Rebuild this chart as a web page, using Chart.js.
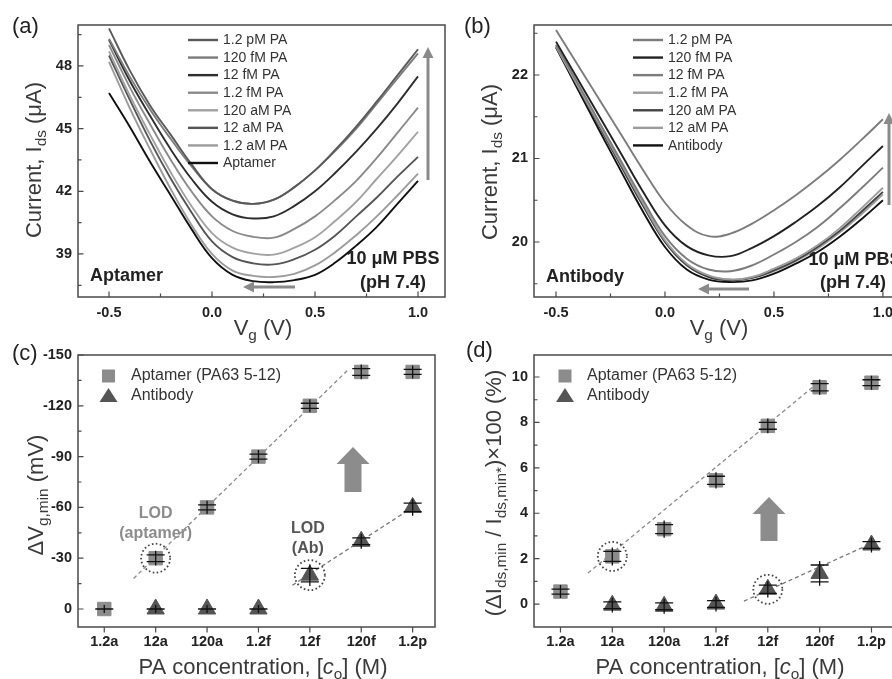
<!DOCTYPE html>
<html>
<head>
<meta charset="utf-8">
<script src="https://cdn.jsdelivr.net/npm/chart.js@4.4.1/dist/chart.umd.min.js"></script>
<style>
  html, body { margin: 0; padding: 0; background: #fff; }
  body { width: 892px; height: 679px; position: relative; overflow: hidden; }
  .panel { position: absolute; overflow: hidden; }
</style>
</head>
<body>
<div class="panel" style="left:0;top:0;width:446px;height:345px"><canvas id="ca" width="446" height="345"></canvas></div>
<div class="panel" style="left:446px;top:0;width:446px;height:345px"><canvas id="cb" width="470" height="345"></canvas></div>
<div class="panel" style="left:0;top:340px;width:446px;height:339px"><canvas id="cc" width="446" height="339"></canvas></div>
<div class="panel" style="left:446px;top:340px;width:446px;height:339px"><canvas id="cd" width="460" height="339"></canvas></div>

<script>
const FONT = "Arial, 'Liberation Sans', sans-serif";
Chart.defaults.font.family = FONT;

// gate voltage (V) shared by panels a and b
const vg = [-0.5, -0.4, -0.3, -0.2, -0.1, 0.0, 0.1, 0.2, 0.3, 0.4, 0.5, 0.6, 0.7, 0.8, 0.9, 1.0];

// (a) aptamer FET, Ids (uA)
const aptLabels = ['1.2 pM PA', '120 fM PA', '12 fM PA', '1.2 fM PA', '120 aM PA', '12 aM PA', '1.2 aM PA', 'Aptamer'];
const apt_1p2pM = [49.8, 47.8, 46.1, 44.7, 43.3, 42.1, 41.55, 41.4, 41.6, 42.2, 43.0, 44.0, 45.1, 46.3, 47.55, 48.8];
const apt_120fM = [49.3, 47.5, 45.9, 44.5, 43.2, 42.1, 41.55, 41.4, 41.6, 42.2, 43.0, 43.95, 45.0, 46.2, 47.4, 48.6];
const apt_12fM  = [49.25, 47.3, 45.6, 44.0, 42.6, 41.5, 40.9, 40.7, 40.8, 41.3, 42.0, 42.9, 43.9, 45.0, 46.2, 47.5];
const apt_1p2fM = [49.0, 47.0, 45.2, 43.5, 42.0, 40.8, 40.1, 39.82, 39.78, 40.2, 40.8, 41.6, 42.5, 43.6, 44.8, 46.0];
const apt_120aM = [48.7, 46.6, 44.7, 42.9, 41.3, 40.0, 39.3, 39.02, 38.97, 39.3, 39.8, 40.6, 41.5, 42.6, 43.7, 44.85];
const apt_12aM  = [48.5, 46.4, 44.4, 42.6, 41.0, 39.6, 38.85, 38.55, 38.5, 38.75, 39.2, 39.9, 40.8, 41.7, 42.7, 43.65];
const apt_1p2aM = [48.2, 46.0, 44.0, 42.1, 40.4, 39.0, 38.2, 37.95, 37.9, 38.05, 38.45, 39.1, 39.9, 40.8, 41.8, 42.85];
const apt_blank = [46.7, 45.1, 43.4, 41.8, 40.2, 38.8, 38.0, 37.7, 37.65, 37.75, 38.0, 38.6, 39.4, 40.3, 41.4, 42.5];
const aptColors = ['#5a5a5a', '#7c7c7c', '#2e2e2e', '#8a8a8a', '#a2a2a2', '#555555', '#9c9c9c', '#111111'];

// (b) antibody FET, Ids (uA)
const abLabels = ['1.2 pM PA', '120 fM PA', '12 fM PA', '1.2 fM PA', '120 aM PA', '12 aM PA', 'Antibody'];
const ab_1p2pM = [22.54, 22.12, 21.7, 21.28, 20.86, 20.47, 20.2, 20.07, 20.1, 20.22, 20.38, 20.56, 20.76, 20.98, 21.22, 21.47];
const ab_120fM = [22.4, 21.95, 21.5, 21.05, 20.6, 20.2, 19.95, 19.84, 19.83, 19.93, 20.07, 20.24, 20.43, 20.65, 20.9, 21.15];
const ab_12fM  = [22.36, 21.9, 21.43, 20.96, 20.5, 20.07, 19.8, 19.67, 19.65, 19.72, 19.85, 20.0, 20.18, 20.4, 20.64, 20.89];
const ab_1p2fM = [22.34, 21.87, 21.4, 20.93, 20.46, 20.02, 19.74, 19.6, 19.55, 19.58, 19.68, 19.8, 19.96, 20.16, 20.4, 20.65];
const ab_120aM = [22.34, 21.86, 21.38, 20.9, 20.43, 20.0, 19.72, 19.58, 19.54, 19.57, 19.66, 19.78, 19.94, 20.13, 20.36, 20.6];
const ab_12aM  = [22.36, 21.88, 21.39, 20.91, 20.44, 20.01, 19.73, 19.59, 19.55, 19.57, 19.65, 19.77, 19.92, 20.11, 20.33, 20.57];
const ab_blank = [22.33, 21.83, 21.33, 20.84, 20.36, 19.94, 19.67, 19.55, 19.52, 19.54, 19.62, 19.74, 19.88, 20.06, 20.27, 20.5];
const abColors = ['#7c7c7c', '#222222', '#7c7c7c', '#9c9c9c', '#444444', '#9c9c9c', '#111111'];

// (c), (d) concentrations
const conc = ['1.2a', '12a', '120a', '1.2f', '12f', '120f', '1.2p'];
const abConc = ['12a', '120a', '1.2f', '12f', '120f', '1.2p'];

// (c) dVg,min (mV)
const dvApt = [0, -30, -60, -90, -120, -140, -140];
const dvAptErr = [0, 2, 1.5, 1.5, 1.5, 2, 1.5];
const dvAb = [0, 0, 0, -20, -40, -60];
const dvAbErr = [0, 0, 0, 4, 2, 2.5];
const dvAptFitX = [0.57, 4.77], dvAptFitY = [-18, -142];
const dvAbFitX = [3.66, 6.0], dvAbFitY = [-14, -60];

// (d) dIds,min / Ids,min* x100 (%)
const diApt = [0.55, 2.1, 3.3, 5.45, 7.85, 9.55, 9.75];
const diAptErr = [0.11, 0.22, 0.2, 0.18, 0.15, 0.16, 0.13];
const diAb = [-0.05, -0.1, 0.0, 0.65, 1.35, 2.6];
const diAbErr = [0.15, 0.15, 0.15, 0.18, 0.37, 0.15];
const diAptFitX = [0.53, 4.87], diAptFitY = [1.37, 9.56];
const diAbFitX = [3.54, 6.02], diAbFitY = [0.13, 2.69];

// ---------- helpers ----------
function richText(ctx, parts, x, y, size, rot, color) {
  ctx.save();
  ctx.translate(x, y);
  if (rot) ctx.rotate(rot);
  ctx.fillStyle = color || '#333';
  ctx.textAlign = 'left';
  ctx.textBaseline = 'alphabetic';
  const font = p => (p[2] ? 'italic ' : '') + (p[1] ? size * 0.7 : size) + 'px ' + FONT;
  let w = 0;
  parts.forEach(p => { ctx.font = font(p); w += ctx.measureText(p[0]).width; });
  let cx = -w / 2;
  parts.forEach(p => {
    ctx.font = font(p);
    ctx.fillText(p[0], cx, size * 0.35 + (p[1] ? size * 0.22 : 0));
    cx += ctx.measureText(p[0]).width;
  });
  ctx.restore();
}

function label(ctx, txt, x, y, font, align, color) {
  ctx.save();
  ctx.font = font + ' ' + FONT;
  ctx.textAlign = align;
  ctx.textBaseline = 'middle';
  ctx.fillStyle = color || '#222';
  ctx.fillText(txt, x, y);
  ctx.restore();
}

function drawFrame(chart, t, outX) {
  const { ctx, chartArea: a, scales: { x, y } } = chart;
  ctx.save();
  ctx.strokeStyle = '#4a4a4a';
  ctx.lineWidth = 1.5;
  ctx.strokeRect(a.left, a.top, a.right - a.left, a.bottom - a.top);
  ctx.lineWidth = 1.2;
  ctx.beginPath();
  const xd = outX ? 1 : -1;
  t.xMajor.forEach(v => { const p = x.getPixelForValue(v); ctx.moveTo(p, a.bottom); ctx.lineTo(p, a.bottom + xd * 5.5); });
  t.xMinor.forEach(v => { const p = x.getPixelForValue(v); ctx.moveTo(p, a.bottom); ctx.lineTo(p, a.bottom + xd * 3.5); });
  t.yMajor.forEach(v => { const p = y.getPixelForValue(v); ctx.moveTo(a.left, p); ctx.lineTo(a.left + 5.5, p); });
  t.yMinor.forEach(v => { const p = y.getPixelForValue(v); ctx.moveTo(a.left, p); ctx.lineTo(a.left + 3.5, p); });
  ctx.stroke();
  ctx.restore();
}

function thinArrow(ctx, x1, y1, x2, y2) {
  const ang = Math.atan2(y2 - y1, x2 - x1), hl = 11, hw = 5.5;
  ctx.save();
  ctx.strokeStyle = '#8a8a8a';
  ctx.fillStyle = '#8a8a8a';
  ctx.lineWidth = 3;
  ctx.beginPath();
  ctx.moveTo(x1, y1);
  ctx.lineTo(x2 - Math.cos(ang) * hl, y2 - Math.sin(ang) * hl);
  ctx.stroke();
  ctx.translate(x2, y2);
  ctx.rotate(ang);
  ctx.beginPath();
  ctx.moveTo(0, 0); ctx.lineTo(-hl, -hw); ctx.lineTo(-hl, hw); ctx.closePath();
  ctx.fill();
  ctx.restore();
}

function fatArrow(ctx, cx, tip, base) {
  ctx.save();
  ctx.fillStyle = '#8c8c8c';
  ctx.beginPath();
  ctx.moveTo(cx, tip);
  ctx.lineTo(cx + 16.5, tip + 17); ctx.lineTo(cx + 8.5, tip + 17); ctx.lineTo(cx + 8.5, base);
  ctx.lineTo(cx - 8.5, base); ctx.lineTo(cx - 8.5, tip + 17); ctx.lineTo(cx - 16.5, tip + 17);
  ctx.closePath();
  ctx.fill();
  ctx.restore();
}

function curveLegend(chart, x0, y0) {
  const ctx = chart.ctx;
  ctx.save();
  ctx.font = '14px ' + FONT;
  ctx.textBaseline = 'middle';
  ctx.fillStyle = '#333';
  chart.data.datasets.forEach((d, i) => {
    const yy = y0 + i * 17.57;
    ctx.strokeStyle = d.borderColor;
    ctx.lineWidth = 2.4;
    ctx.beginPath(); ctx.moveTo(x0, yy); ctx.lineTo(x0 + 30, yy); ctx.stroke();
    ctx.fillText(d.label, x0 + 35, yy + 0.5);
  });
  ctx.restore();
}

function markerLegend(ctx, x, y1, y2, tx) {
  ctx.save();
  ctx.fillStyle = '#8c8c8c';
  ctx.fillRect(x - 6.5, y1 - 6.5, 13, 13);
  ctx.fillStyle = '#555';
  ctx.beginPath();
  ctx.moveTo(x, y2 - 8); ctx.lineTo(x + 9, y2 + 6); ctx.lineTo(x - 9, y2 + 6); ctx.closePath();
  ctx.fill();
  ctx.restore();
  label(ctx, 'Aptamer (PA63 5-12)', tx, y1, '16px', 'left', '#333');
  label(ctx, 'Antibody', tx, y2, '16px', 'left', '#333');
}

function errorBars(chart, xs, ys, errs) {
  const { ctx, scales: { x, y } } = chart;
  ctx.save();
  ctx.strokeStyle = '#111';
  ctx.lineWidth = 1.3;
  ctx.beginPath();
  ys.forEach((v, i) => {
    const px = x.getPixelForValue(xs[i]);
    const a = y.getPixelForValue(v - errs[i]), b = y.getPixelForValue(v + errs[i]);
    const lo = Math.min(a, b), hi = Math.max(a, b);
    ctx.moveTo(px - 9, a); ctx.lineTo(px + 9, a);
    ctx.moveTo(px - 9, b); ctx.lineTo(px + 9, b);
    ctx.moveTo(px, lo - 4); ctx.lineTo(px, hi + 4);
  });
  ctx.stroke();
  ctx.restore();
}

function dottedCircle(chart, xv, yv, r) {
  const { ctx, scales: { x, y } } = chart;
  ctx.save();
  ctx.strokeStyle = '#444';
  ctx.lineWidth = 1.8;
  ctx.setLineDash([1.6, 2.4]);
  ctx.beginPath();
  ctx.arc(x.getPixelForValue(xv), y.getPixelForValue(yv), r, 0, Math.PI * 2);
  ctx.stroke();
  ctx.restore();
}

function options(o) {
  return {
    responsive: false, animation: false, devicePixelRatio: 1, events: [],
    layout: { padding: { left: 0, top: o.top, right: o.right, bottom: 0 } },
    plugins: { legend: { display: false }, tooltip: { enabled: false } },
    scales: {
      x: {
        type: 'linear', min: o.xr[0], max: o.xr[1],
        grid: { display: false, drawTicks: false }, border: { display: false },
        afterFit: s => { s.height = o.xh; },
        afterBuildTicks: s => { s.ticks = o.xt.map(v => ({ value: v })); },
        ticks: { padding: o.xpad, autoSkip: false, maxRotation: 0, color: '#222',
                 font: { size: 14.5, weight: 'bold' }, callback: o.xf }
      },
      y: {
        type: 'linear', min: o.yr[0], max: o.yr[1], reverse: !!o.rev,
        grid: { display: false, drawTicks: false }, border: { display: false },
        afterFit: s => { s.width = o.yw; },
        afterBuildTicks: s => { s.ticks = o.yt.map(v => ({ value: v })); },
        ticks: { padding: 6, autoSkip: false, color: '#222',
                 font: { size: 14.5, weight: 'bold' }, callback: v => String(v) }
      }
    }
  };
}

function curveSets(labels, curves, colors) {
  return curves.map((ys, i) => ({
    label: labels[i],
    data: ys.map((v, j) => ({ x: vg[j], y: v })),
    borderColor: colors[i],
    borderWidth: 1.9,
    pointRadius: 0,
    fill: false,
    tension: 0.4
  }));
}

const vgTicks = [-0.5, 0.0, 0.5, 1.0];
const vgMinor = [-0.25, 0.25, 0.75];
const concIdx = conc.map((c, i) => i);
const abIdx = abConc.map(c => conc.indexOf(c));

// ---------- (a) ----------
new Chart(document.getElementById('ca'), {
  type: 'line',
  data: { datasets: curveSets(aptLabels, [apt_1p2pM, apt_120fM, apt_12fM, apt_1p2fM, apt_120aM, apt_12aM, apt_1p2aM, apt_blank], aptColors) },
  options: options({ top: 25, right: 1, xh: 48, yw: 78, xpad: 7,
    xr: [-0.6505, 1.131], yr: [36.94, 49.96], xt: vgTicks, yt: [39, 42, 45, 48],
    xf: v => v.toFixed(1) }),
  plugins: [{
    id: 'annA',
    afterDraw(chart) {
      const ctx = chart.ctx;
      drawFrame(chart, { xMajor: vgTicks, xMinor: vgMinor, yMajor: [39, 42, 45, 48], yMinor: [37.5, 40.5, 43.5, 46.5, 49.5] });
      curveLegend(chart, 188, 40);
      label(ctx, '(a)', 12, 27, '22px', 'left', '#222');
      label(ctx, 'Aptamer', 90, 276, 'bold 18px', 'left', '#222');
      label(ctx, '10 μM PBS', 393, 259, 'bold 18px', 'center', '#222');
      label(ctx, '(pH 7.4)', 393, 283, 'bold 18px', 'center', '#222');
      thinArrow(ctx, 295, 287, 243, 287);
      thinArrow(ctx, 428, 180, 428, 47);
      richText(ctx, [['Current, I'], ['ds', 1], [' (μA)']], 33, 160, 22, -Math.PI / 2, '#3a3a3a');
      richText(ctx, [['V'], ['g', 1], [' (V)']], 263, 327, 22, 0, '#3a3a3a');
    }
  }]
});

// ---------- (b) ----------
new Chart(document.getElementById('cb'), {
  type: 'line',
  data: { datasets: curveSets(abLabels, [ab_1p2pM, ab_120fM, ab_12fM, ab_1p2fM, ab_120aM, ab_12aM, ab_blank], abColors) },
  options: options({ top: 25, right: 3, xh: 48, yw: 88, xpad: 7,
    xr: [-0.601, 1.138], yr: [19.341, 22.599], xt: vgTicks, yt: [20, 21, 22],
    xf: v => v.toFixed(1) }),
  plugins: [{
    id: 'annB',
    afterDraw(chart) {
      const ctx = chart.ctx;
      drawFrame(chart, { xMajor: vgTicks, xMinor: vgMinor, yMajor: [20, 21, 22], yMinor: [19.5, 20.5, 21.5, 22.5] });
      curveLegend(chart, 187, 40);
      label(ctx, '(b)', 18, 27, '22px', 'left', '#222');
      label(ctx, 'Antibody', 100, 277, 'bold 18px', 'left', '#222');
      label(ctx, '10 μM PBS', 409, 260, 'bold 18px', 'center', '#222');
      label(ctx, '(pH 7.4)', 407, 283, 'bold 18px', 'center', '#222');
      thinArrow(ctx, 303, 289, 252, 289);
      thinArrow(ctx, 443, 205, 443, 113);
      richText(ctx, [['Current, I'], ['ds', 1], [' (μA)']], 43, 162, 22, -Math.PI / 2, '#3a3a3a');
      richText(ctx, [['V'], ['g', 1], [' (V)']], 273, 327, 22, 0, '#3a3a3a');
    }
  }]
});

// ---------- (c) and (d) ----------
function pointSets(apt, ab, aptFx, aptFy, abFx, abFy) {
  return [
    { label: 'Aptamer (PA63 5-12)', data: apt.map((v, i) => ({ x: concIdx[i], y: v })),
      pointStyle: 'rect', pointRadius: 9.5, backgroundColor: '#8c8c8c', borderColor: '#8c8c8c', borderWidth: 1, showLine: false },
    { label: 'Antibody', data: ab.map((v, i) => ({ x: abIdx[i], y: v })),
      pointStyle: 'triangle', pointRadius: 10, backgroundColor: '#555', borderColor: '#555', borderWidth: 1, showLine: false },
    { label: 'fit aptamer', data: aptFx.map((v, i) => ({ x: v, y: aptFy[i] })),
      showLine: true, pointRadius: 0, borderColor: '#8a8a8a', borderWidth: 1.3, borderDash: [4, 3] },
    { label: 'fit antibody', data: abFx.map((v, i) => ({ x: v, y: abFy[i] })),
      showLine: true, pointRadius: 0, borderColor: '#777', borderWidth: 1.3, borderDash: [4, 3] }
  ];
}

new Chart(document.getElementById('cc'), {
  type: 'scatter',
  data: { datasets: pointSets(dvApt, dvAb, dvAptFitX, dvAptFitY, dvAbFitX, dvAbFitY) },
  options: options({ top: 15, right: 1, xh: 52, yw: 78, xpad: 6,
    xr: [-0.511, 6.435], yr: [-150, 10.63], rev: true, xt: concIdx, yt: [-150, -120, -90, -60, -30, 0],
    xf: v => conc[v] }),
  plugins: [{
    id: 'annC',
    afterDraw(chart) {
      const ctx = chart.ctx;
      const { x, y } = chart.scales;
      errorBars(chart, concIdx, dvApt, dvAptErr);
      errorBars(chart, abIdx, dvAb, dvAbErr);
      drawFrame(chart, { xMajor: concIdx, xMinor: [], yMajor: [-150, -120, -90, -60, -30, 0], yMinor: [-135, -105, -75, -45, -15] }, true);
      dottedCircle(chart, 1, dvApt[1], 14.5);
      dottedCircle(chart, 4, dvAb[abIdx.indexOf(4)], 15);
      const ax = x.getPixelForValue(1), ay = y.getPixelForValue(dvApt[1]);
      label(ctx, 'LOD', ax, ay - 45, 'bold 16px', 'center', '#8c8c8c');
      label(ctx, '(aptamer)', ax, ay - 25, 'bold 16px', 'center', '#8c8c8c');
      const bx = x.getPixelForValue(4), by = y.getPixelForValue(dvAb[abIdx.indexOf(4)]);
      label(ctx, 'LOD', bx - 2, by - 47, 'bold 16px', 'center', '#555');
      label(ctx, '(Ab)', bx - 2, by - 27, 'bold 16px', 'center', '#555');
      fatArrow(ctx, 353, 107, 152);
      markerLegend(ctx, 108.5, 36, 56, 131);
      label(ctx, '(c)', 12, 14, '22px', 'left', '#222');
      richText(ctx, [['ΔV'], ['g,min', 1], [' (mV)']], 35, 155, 22, -Math.PI / 2, '#3a3a3a');
      richText(ctx, [['PA concentration, ['], ['c', 0, 1], ['o', 1], ['] (M)']], 263, 326, 22, 0, '#3a3a3a');
    }
  }]
});

new Chart(document.getElementById('cd'), {
  type: 'scatter',
  data: { datasets: pointSets(diApt, diAb, diAptFitX, diAptFitY, diAbFitX, diAbFitY) },
  options: options({ top: 15, right: 4, xh: 52, yw: 88, xpad: 6,
    xr: [-0.511, 6.454], yr: [-1.01, 10.97], xt: concIdx, yt: [0, 2, 4, 6, 8, 10],
    xf: v => conc[v] }),
  plugins: [{
    id: 'annD',
    afterDraw(chart) {
      const ctx = chart.ctx;
      errorBars(chart, concIdx, diApt, diAptErr);
      errorBars(chart, abIdx, diAb, diAbErr);
      drawFrame(chart, { xMajor: concIdx, xMinor: [], yMajor: [0, 2, 4, 6, 8, 10], yMinor: [1, 3, 5, 7, 9] }, true);
      dottedCircle(chart, 1, diApt[1], 14.5);
      dottedCircle(chart, 4, diAb[abIdx.indexOf(4)], 14.5);
      fatArrow(ctx, 323, 157, 201);
      markerLegend(ctx, 119, 36, 56, 141);
      label(ctx, '(d)', 20, 11, '22px', 'left', '#222');
      richText(ctx, [['(ΔI'], ['ds,min', 1], [' / I'], ['ds,min*', 1], [')×100 (%)']], 47, 153, 22, -Math.PI / 2, '#3a3a3a');
      richText(ctx, [['PA concentration, ['], ['c', 0, 1], ['o', 1], ['] (M)']], 274, 326, 22, 0, '#3a3a3a');
    }
  }]
});
</script>
</body>
</html>
